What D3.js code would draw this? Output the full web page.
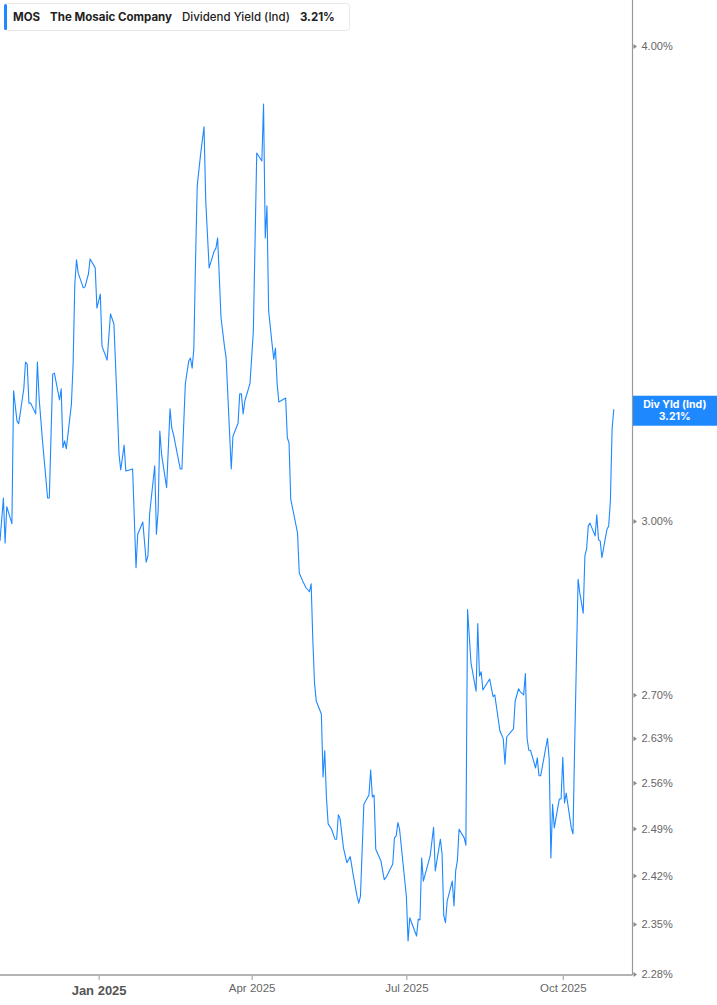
<!DOCTYPE html>
<html>
<head>
<meta charset="utf-8">
<script src="https://cdn.jsdelivr.net/npm/d3@7"></script>
<style>
  body { margin: 0; background: #fff; }
  svg { display: block; font-family: Inter, "Noto Sans", sans-serif; }
</style>
</head>
<body>
<div id="chart"></div>
<script>
// one row per month, Nov 2024 .. Oct 2025
var dates = [
  "2024-11-04","2024-11-06","2024-11-07","2024-11-08","2024-11-11","2024-11-12","2024-11-14","2024-11-15","2024-11-18","2024-11-19","2024-11-20","2024-11-21","2024-11-22","2024-11-25","2024-11-26","2024-11-27","2024-11-29",
  "2024-12-02","2024-12-03","2024-12-05","2024-12-06","2024-12-09","2024-12-10","2024-12-11","2024-12-12","2024-12-13","2024-12-16","2024-12-17","2024-12-18","2024-12-19","2024-12-20","2024-12-23","2024-12-24","2024-12-26","2024-12-27","2024-12-30","2024-12-31",
  "2025-01-02","2025-01-03","2025-01-06","2025-01-08","2025-01-10","2025-01-12","2025-01-13","2025-01-14","2025-01-16","2025-01-17","2025-01-21","2025-01-23","2025-01-24","2025-01-27","2025-01-29","2025-01-30","2025-01-31",
  "2025-02-03","2025-02-04","2025-02-05","2025-02-06","2025-02-07","2025-02-10","2025-02-12","2025-02-13","2025-02-14","2025-02-18","2025-02-19","2025-02-21","2025-02-23","2025-02-24","2025-02-25","2025-02-26","2025-02-27","2025-02-28",
  "2025-03-02","2025-03-04","2025-03-05","2025-03-07","2025-03-10","2025-03-11","2025-03-12","2025-03-14","2025-03-16","2025-03-17","2025-03-20","2025-03-21","2025-03-24","2025-03-25","2025-03-26","2025-03-27","2025-03-28","2025-03-31",
  "2025-04-01","2025-04-02","2025-04-04","2025-04-07","2025-04-08","2025-04-09","2025-04-10","2025-04-11","2025-04-13","2025-04-14","2025-04-15","2025-04-16","2025-04-17","2025-04-21","2025-04-22","2025-04-23","2025-04-24","2025-04-26","2025-04-28","2025-04-29",
  "2025-05-01","2025-05-03","2025-05-05","2025-05-06","2025-05-07","2025-05-08","2025-05-09","2025-05-12","2025-05-13","2025-05-14","2025-05-15","2025-05-16","2025-05-18","2025-05-20","2025-05-21","2025-05-22","2025-05-23","2025-05-25","2025-05-27","2025-05-29","2025-05-31",
  "2025-06-02","2025-06-03","2025-06-04","2025-06-06","2025-06-09","2025-06-10","2025-06-11","2025-06-12","2025-06-13","2025-06-16","2025-06-18","2025-06-19","2025-06-23","2025-06-24","2025-06-25","2025-06-26","2025-06-27",
  "2025-07-01","2025-07-02","2025-07-03","2025-07-07","2025-07-08","2025-07-09","2025-07-10","2025-07-11","2025-07-15","2025-07-17","2025-07-18","2025-07-21","2025-07-22","2025-07-23","2025-07-24","2025-07-25","2025-07-28","2025-07-29","2025-07-30","2025-07-31",
  "2025-08-01","2025-08-04","2025-08-05","2025-08-06","2025-08-08","2025-08-11","2025-08-12","2025-08-13","2025-08-14","2025-08-15","2025-08-19","2025-08-21","2025-08-22","2025-08-25","2025-08-27","2025-08-28","2025-08-29",
  "2025-09-02","2025-09-03","2025-09-05","2025-09-06","2025-09-08","2025-09-09","2025-09-10","2025-09-11","2025-09-12","2025-09-15","2025-09-16","2025-09-17","2025-09-18","2025-09-22","2025-09-23","2025-09-24","2025-09-25","2025-09-26","2025-09-28","2025-09-29","2025-09-30",
  "2025-10-01","2025-10-02","2025-10-03","2025-10-06","2025-10-07","2025-10-08","2025-10-10","2025-10-11","2025-10-13","2025-10-14","2025-10-15","2025-10-16","2025-10-17","2025-10-20","2025-10-21","2025-10-22","2025-10-23","2025-10-24","2025-10-27","2025-10-28","2025-10-29","2025-10-30","2025-10-31"
];

var yields = [
  2.964,3.042,2.960,3.026,2.995,3.246,3.187,3.182,3.250,3.303,3.299,3.222,3.222,3.201,3.303,3.232,3.149,
  3.042,3.042,3.279,3.281,3.228,3.250,3.136,3.149,3.134,3.220,3.299,3.463,3.514,3.486,3.455,3.457,3.484,3.516,3.497,3.413,
  3.442,3.335,3.307,3.401,3.380,3.213,3.124,3.094,3.141,3.092,3.096,2.916,2.976,2.998,2.926,2.937,3.013,
  3.102,2.976,3.018,3.168,3.124,3.061,3.211,3.174,3.162,3.096,3.096,3.260,3.305,3.311,3.291,3.329,3.512,3.675,
  3.747,3.809,3.642,3.497,3.533,3.539,3.561,3.393,3.335,3.311,3.096,3.158,3.183,3.240,3.240,3.201,3.226,3.260,
  3.311,3.366,3.749,3.731,3.862,3.561,3.631,3.407,3.340,3.309,3.331,3.260,3.224,3.232,3.155,3.145,3.040,3.009,2.978,2.907,
  2.893,2.881,2.874,2.888,2.790,2.718,2.690,2.669,2.569,2.610,2.537,2.497,2.489,2.474,2.474,2.511,2.505,2.461,2.439,2.448,2.417,
  2.390,2.380,2.390,2.527,2.541,2.580,2.538,2.541,2.459,2.442,2.414,2.417,2.437,2.476,2.479,2.499,2.489,
  2.390,2.326,2.359,2.333,2.357,2.356,2.446,2.412,2.449,2.492,2.427,2.474,2.452,2.362,2.352,2.383,2.412,2.376,2.427,2.442,
  2.489,2.476,2.465,2.843,2.753,2.706,2.819,2.731,2.738,2.708,2.726,2.697,2.700,2.642,2.629,2.589,2.632,
  2.645,2.690,2.710,2.705,2.700,2.735,2.630,2.611,2.611,2.583,2.599,2.571,2.571,2.630,2.597,2.446,2.527,2.491,2.521,2.535,2.535,
  2.600,2.529,2.544,2.491,2.482,2.621,2.896,2.872,2.837,2.937,2.950,2.991,2.996,2.973,3.011,2.966,2.964,2.934,2.985,2.991,3.037,3.172,3.210
];

var yTicks = [4.00, 3.00, 2.70, 2.63, 2.56, 2.49, 2.42, 2.35, 2.28];
var xTicks = ["2025-01-01", "2025-04-01", "2025-07-01", "2025-10-01"];
var xTickLabels = ["Jan 2025", "Apr 2025", "Jul 2025", "Oct 2025"];

var legendParts = [
  { text: "MOS", bold: true },
  { text: "The Mosaic Company", bold: true },
  { text: "Dividend Yield (Ind)", bold: false },
  { text: "3.21%", bold: true }
];
var lastLabel = ["Div Yld (Ind)", "3.21%"];
var lastValue = 3.21;

var w = 717;
var h = 1005;
var plotRight = 632.5;
var plotBottom = 975;
var blue = "#1e88ff";

var parseDate = d3.utcParse("%Y-%m-%d");

var series = dates.map(function(d, i) {
  return { date: parseDate(d), value: yields[i] };
});

var svg = d3.select("#chart")
  .append("svg")
  .attr("width", w)
  .attr("height", h);

var xScale = d3.scaleUtc()
  .domain([parseDate("2024-11-04"), parseDate("2025-11-11")])
  .range([0, plotRight]);

var yScale = d3.scaleLog()
  .domain([2.28, 4.00])
  .range([974, 46]);

// price line
var line = d3.line()
  .x(function(d) { return xScale(d.date); })
  .y(function(d) { return yScale(d.value); });

svg.append("path")
  .datum(series)
  .attr("fill", "none")
  .attr("stroke", blue)
  .attr("stroke-width", 1.1)
  .attr("stroke-linejoin", "round")
  .attr("d", line);

// bottom axis
var xAxis = d3.axisBottom(xScale)
  .tickValues(xTicks.map(parseDate))
  .tickSize(5)
  .tickFormat(function(d, i) { return xTickLabels[i]; });

var xAxisG = svg.append("g")
  .attr("transform", "translate(0," + plotBottom + ")")
  .call(xAxis);

xAxisG.select(".domain").remove();
xAxisG.selectAll(".tick line")
  .attr("stroke", "#9a9a9a");
xAxisG.selectAll(".tick text")
  .attr("y", 9)
  .attr("fill", "#666")
  .style("font-size", "11.5px")
  .style("font-weight", 500);
xAxisG.selectAll(".tick text")
  .filter(function(d, i) { return i == 0; })
  .attr("y", 11)
  .attr("fill", "#555")
  .style("font-size", "13px")
  .style("font-weight", 700);

svg.append("line")
  .attr("x1", 0)
  .attr("x2", plotRight)
  .attr("y1", plotBottom)
  .attr("y2", plotBottom)
  .attr("stroke", "#b3b3b3")
  .attr("stroke-width", 2);

// right axis
var yAxis = d3.axisRight(yScale)
  .tickValues(yTicks)
  .tickSize(0)
  .tickPadding(9)
  .tickFormat(function(d) { return d.toFixed(2) + "%"; });

var yAxisG = svg.append("g")
  .attr("transform", "translate(" + plotRight + ",0)")
  .call(yAxis);

yAxisG.select(".domain").remove();
yAxisG.selectAll(".tick text")
  .attr("fill", "#666")
  .style("font-size", "11px");
yAxisG.selectAll(".tick")
  .append("path")
  .attr("d", "M1,-2.5L4.5,0L1,2.5Z")
  .attr("fill", "#888");

svg.append("line")
  .attr("x1", plotRight)
  .attr("x2", plotRight)
  .attr("y1", 0)
  .attr("y2", plotBottom)
  .attr("stroke", "#999")
  .attr("stroke-width", 1.2);

// last value badge
var badgeY = yScale(lastValue);
svg.append("rect")
  .attr("x", plotRight + 0.5)
  .attr("y", badgeY - 13.5)
  .attr("width", w - plotRight)
  .attr("height", 30)
  .attr("fill", blue);

svg.selectAll("text.badge")
  .data(lastLabel)
  .enter()
  .append("text")
  .attr("class", "badge")
  .attr("x", (plotRight + w) / 2)
  .attr("y", function(d, i) { return badgeY - 1.5 + i * 12.5; })
  .attr("text-anchor", "middle")
  .attr("fill", "white")
  .style("font-size", "10.5px")
  .style("font-weight", 700)
  .text(function(d) { return d; });

// legend box
var legend = svg.append("g");

legend.append("rect")
  .attr("x", 4.5)
  .attr("y", 3.5)
  .attr("width", 345)
  .attr("height", 27)
  .attr("rx", 3)
  .attr("fill", "white")
  .attr("stroke", "#e8e8e8");

legend.append("rect")
  .attr("x", 4)
  .attr("y", 4)
  .attr("width", 3)
  .attr("height", 26)
  .attr("rx", 1.5)
  .attr("fill", blue);

var legendX = 13;
legendParts.forEach(function(p) {
  var t = legend.append("text")
    .attr("x", legendX)
    .attr("y", 21)
    .attr("fill", "#222")
    .style("font-size", "11.5px")
    .style("font-weight", p.bold ? 700 : 500)
    .text(p.text);
  legendX += t.node().getComputedTextLength() + 10;
});
</script>
</body>
</html>
